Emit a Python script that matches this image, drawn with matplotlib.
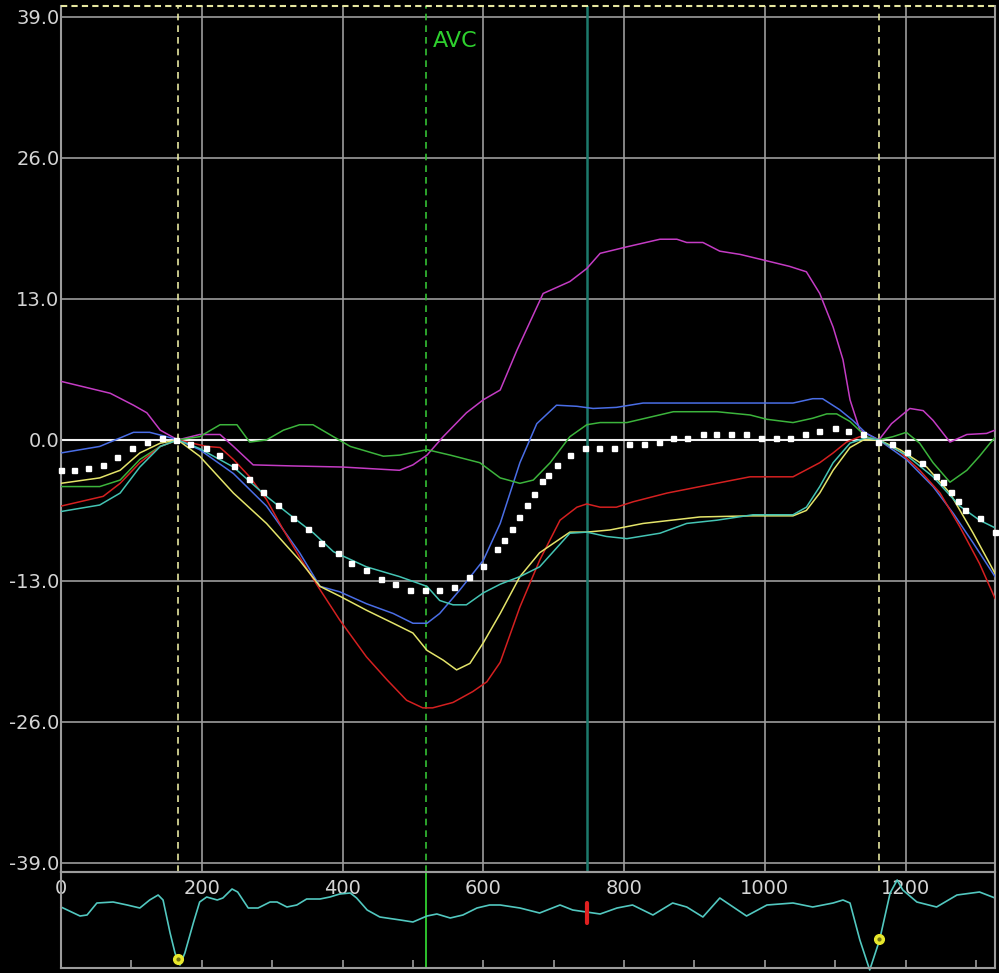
import matplotlib
matplotlib.use('Agg')
import matplotlib.pyplot as plt

plt.rcParams['axes.unicode_minus'] = False
plt.rcParams['font.family'] = ['DejaVu Sans']

# strain curves per segment (time in ms, strain in %)
magenta_t = [0, 70, 103, 122, 141, 166, 197, 226, 245, 273, 330, 400, 481, 500, 520, 543,
             576, 600, 624, 648, 685, 723, 747, 766, 804, 851, 875, 889, 912, 936, 965, 997,
             1035, 1059, 1078, 1097, 1111, 1121, 1135, 1162, 1180, 1206, 1225, 1239, 1263,
             1287, 1315, 1327]
magenta_v = [5.4, 4.3, 3.2, 2.5, 0.9, 0.0, 0.5, 0.5, -0.6, -2.3, -2.4, -2.5, -2.8, -2.3, -1.4,
             0.3, 2.5, 3.7, 4.6, 8.3, 13.5, 14.6, 15.8, 17.2, 17.8, 18.5, 18.5, 18.2, 18.2,
             17.4, 17.1, 16.6, 16.0, 15.5, 13.5, 10.4, 7.4, 3.7, 0.9, 0.0, 1.5, 2.9, 2.7, 1.8,
             -0.2, 0.5, 0.6, 0.9]

blue_t = [0, 55, 103, 126, 150, 166, 197, 245, 292, 339, 368, 396, 434, 472, 500, 520, 538,
          567, 600, 624, 652, 676, 704, 733, 756, 789, 827, 907, 1040, 1068, 1082, 1106, 1125,
          1144, 1162, 1201, 1239, 1268, 1296, 1327]
blue_v = [-1.2, -0.6, 0.7, 0.7, 0.3, 0.0, -0.9, -3.1, -6.1, -10.4, -13.5, -14.0, -15.1, -16.0,
          -16.9, -16.9, -16.0, -13.8, -11.1, -7.7, -2.1, 1.5, 3.2, 3.1, 2.9, 3.0, 3.4, 3.4,
          3.4, 3.8, 3.8, 2.8, 1.8, 0.6, 0.0, -1.8, -4.3, -6.8, -9.5, -12.6]

green_t = [0, 55, 84, 112, 141, 166, 197, 226, 250, 268, 292, 316, 339, 358, 387, 411, 458,
           481, 520, 553, 595, 624, 652, 671, 695, 723, 747, 766, 804, 837, 870, 932, 979,
           1003, 1040, 1068, 1088, 1102, 1121, 1144, 1162, 1182, 1201, 1220, 1239, 1263, 1287,
           1305, 1320, 1327]
green_v = [-4.3, -4.3, -3.7, -1.8, -0.6, 0.0, 0.3, 1.4, 1.4, -0.2, 0.0, 0.9, 1.4, 1.4, 0.3,
           -0.6, -1.5, -1.4, -0.9, -1.4, -2.1, -3.5, -4.0, -3.7, -2.1, 0.3, 1.4, 1.6, 1.6, 2.1,
           2.6, 2.6, 2.3, 1.9, 1.6, 2.0, 2.4, 2.4, 1.7, 0.3, 0.0, 0.3, 0.7, -0.3, -2.1, -3.9,
           -2.8, -1.5, -0.3, 0.2]

red_t = [0, 60, 84, 112, 141, 166, 207, 226, 245, 268, 292, 316, 339, 368, 396, 434, 463, 491,
         514, 528, 557, 585, 605, 624, 652, 680, 709, 733, 747, 766, 789, 813, 861, 908, 955,
         979, 1040, 1078, 1097, 1116, 1135, 1162, 1192, 1220, 1249, 1277, 1305, 1327]
red_v = [-6.1, -5.2, -4.0, -2.1, -0.6, 0.0, -0.6, -0.7, -1.8, -3.4, -5.5, -8.3, -10.8, -13.8,
         -16.6, -20.0, -22.1, -24.0, -24.7, -24.7, -24.2, -23.2, -22.3, -20.5, -15.4, -11.1,
         -7.4, -6.2, -5.9, -6.2, -6.2, -5.7, -4.9, -4.3, -3.7, -3.4, -3.4, -2.1, -1.2, -0.2,
         0.3, 0.0, -1.1, -2.8, -4.9, -8.0, -11.4, -14.6]

yellow_t = [0, 55, 84, 112, 141, 166, 197, 245, 292, 339, 368, 396, 434, 472, 500, 520, 543,
            562, 581, 600, 624, 652, 680, 723, 747, 780, 827, 908, 979, 1040, 1059, 1078, 1097,
            1121, 1140, 1162, 1192, 1230, 1263, 1296, 1327]
yellow_v = [-4.0, -3.5, -2.8, -1.2, -0.3, 0.0, -1.5, -4.9, -7.7, -11.1, -13.5, -14.4, -15.7,
            -16.9, -17.8, -19.4, -20.3, -21.2, -20.6, -18.7, -16.0, -12.6, -10.4, -8.5, -8.5,
            -8.3, -7.7, -7.1, -7.0, -7.0, -6.5, -4.9, -2.8, -0.7, 0.0, 0.0, -0.9, -2.5, -4.9,
            -8.6, -12.3]

cyan_t = [0, 55, 84, 112, 141, 166, 197, 245, 292, 325, 359, 387, 434, 481, 520, 538, 557,
          576, 600, 624, 652, 680, 723, 747, 775, 804, 851, 889, 932, 983, 1040, 1059, 1078,
          1097, 1121, 1144, 1162, 1201, 1239, 1277, 1305, 1327]
cyan_v = [-6.6, -6.0, -4.9, -2.5, -0.6, 0.0, -0.8, -2.5, -5.2, -6.9, -8.6, -10.3, -11.7,
          -12.6, -13.5, -14.8, -15.2, -15.2, -14.1, -13.3, -12.6, -11.7, -8.6, -8.5, -8.9,
          -9.1, -8.6, -7.7, -7.4, -6.9, -6.9, -6.2, -4.3, -2.1, -0.3, 0.2, 0.0, -1.4, -3.4,
          -6.1, -7.4, -8.1]

# global average, drawn as dotted squares
avg_t = [0, 19, 39, 59, 80, 101, 122, 143, 163, 183, 206, 224, 246, 267, 287, 309, 330, 351,
         369, 393, 412, 433, 454, 475, 496, 517, 537, 559, 579, 599, 620, 630, 641, 651, 662,
         672, 683, 692, 704, 723, 744, 765, 786, 807, 828, 849, 870, 889, 912, 931, 952, 973,
         994, 1016, 1036, 1057, 1077, 1099, 1118, 1140, 1161, 1181, 1202, 1223, 1243, 1253,
         1265, 1275, 1284, 1305, 1327]
avg_v = [-2.8, -2.8, -2.6, -2.3, -1.6, -0.7, -0.15, 0.15, 0.0, -0.4, -0.7, -1.4, -2.4, -3.6,
         -4.8, -6.0, -7.2, -8.2, -9.5, -10.4, -11.3, -12.0, -12.8, -13.3, -13.8, -13.8, -13.8,
         -13.6, -12.6, -11.6, -10.1, -9.2, -8.2, -7.1, -6.0, -4.95, -3.8, -3.2, -2.3, -1.4,
         -0.7, -0.7, -0.7, -0.4, -0.4, -0.15, 0.15, 0.15, 0.55, 0.55, 0.55, 0.55, 0.15, 0.15,
         0.15, 0.55, 0.83, 1.1, 0.83, 0.55, -0.15, -0.4, -1.1, -2.1, -3.3, -3.9, -4.8, -5.6,
         -6.5, -7.2, -8.5]

# ECG trace (ms, arbitrary amplitude)
ecg_t = [0, 27, 37, 51, 74, 94, 112, 126, 138, 145, 155, 162, 169, 176, 188, 197, 207, 222,
         230, 243, 251, 266, 280, 297, 307, 321, 335, 349, 368, 382, 396, 411, 420, 435, 453,
         482, 500, 520, 534, 553, 571, 591, 609, 624, 652, 680, 709, 727, 766, 790, 812, 841,
         869, 889, 912, 936, 955, 974, 1003, 1040, 1068, 1097, 1111, 1121, 1135, 1149, 1163,
         1178, 1188, 1196, 1216, 1244, 1273, 1305, 1327]
ecg_v = [6.1, 5.2, 5.3, 6.5, 6.6, 6.3, 6.0, 6.8, 7.3, 6.8, 3.5, 1.5, 0.3, 1.5, 4.5, 6.6, 7.1,
         6.8, 7.0, 7.9, 7.6, 6.0, 6.0, 6.6, 6.6, 6.1, 6.3, 6.9, 6.9, 7.1, 7.4, 7.5, 7.0, 5.8,
         5.1, 4.8, 4.6, 5.2, 5.4, 5.0, 5.3, 6.0, 6.3, 6.3, 6.0, 5.5, 6.3, 5.8, 5.4, 6.0, 6.3,
         5.3, 6.5, 6.1, 5.1, 7.0, 6.1, 5.2, 6.3, 6.5, 6.1, 6.5, 6.8, 6.5, 2.8, -0.2, 2.8, 7.5,
         8.8, 7.8, 6.6, 6.1, 7.3, 7.6, 7.0]

# event markers (ms)
frame_marks = [166, 1162]
frame_marks_amp = [0.9, 2.9]
avc_time = 518
cursor_time = 747
cursor_span = [4.5, 6.5]

y_ticks = [-39, -26, -13, 0, 13, 26, 39]
x_ticks = [0, 200, 400, 600, 800, 1000, 1200]

W, H = 999, 973
fig = plt.figure(figsize=(W / 100, H / 100), dpi=100, facecolor='black')

grid_col = '#9c9c9c'
text_col = '#d4d4d4'
dash_yellow = '#e6e6a0'

ax = fig.add_axes([61 / W, (H - 872) / H, 934 / W, 866 / H], facecolor='black')
ax.set_xlim(0, 1327)
ax.set_ylim(-39.83, 40.0)

ax.set_yticks(y_ticks)
ax.set_yticklabels(['%.1f' % v for v in y_ticks])
ax.set_xticks(x_ticks)
ax.set_xticklabels([str(v) for v in x_ticks])
ax.tick_params(axis='y', length=0, pad=1, labelsize=14, labelcolor=text_col)
ax.tick_params(axis='x', length=0, pad=5, labelsize=14, labelcolor=text_col)
ax.grid(True, color=grid_col, lw=1.2)
ax.set_axisbelow(True)
for side in ['left', 'right', 'bottom']:
    ax.spines[side].set_color(grid_col)
    ax.spines[side].set_linewidth(1.5)
ax.spines['top'].set_visible(False)

ax.axhline(0, color='#f0f0f0', lw=1.5, zorder=1)
ax.axhline(40.0, color=dash_yellow, lw=1.5, ls=(0, (3, 2)), clip_on=False, zorder=3)
for t in frame_marks:
    ax.axvline(t, color=dash_yellow, lw=1.2, ls=(0, (4, 3)), zorder=2)
ax.axvline(avc_time, color='#34c034', lw=1.2, ls=(0, (4, 3)), zorder=2)
ax.axvline(cursor_time, color='#1d7a6c', lw=1.8, zorder=2)
ax.text(avc_time + 10, 36.8, 'AVC', color='#2ed02e', fontsize=16, va='center', ha='left')

ax.plot(magenta_t, magenta_v, color='#c43cc4', lw=1.1, zorder=4)
ax.plot(blue_t, blue_v, color='#4a6ee6', lw=1.1, zorder=4)
ax.plot(green_t, green_v, color='#3cb43c', lw=1.1, zorder=4)
ax.plot(red_t, red_v, color='#d42020', lw=1.1, zorder=4)
ax.plot(yellow_t, yellow_v, color='#e4e46a', lw=1.1, zorder=4)
ax.plot(cyan_t, cyan_v, color='#44c4b4', lw=1.1, zorder=4)
ax.plot(avg_t, avg_v, ls='none', marker='s', ms=3.6, color='white', mec='white',
        zorder=5, clip_on=False)

# ECG strip below the strain plot
ecg = fig.add_axes([61 / W, (H - 968) / H, 934 / W, 96 / H], facecolor='none')
ecg.set_xlim(0, 1327)
ecg.set_ylim(0, 9.6)
ecg.set_xticks(range(0, 1400, 100))
ecg.set_xticklabels([])
ecg.set_yticks([])
ecg.tick_params(axis='x', direction='in', length=6, width=1.2, color=grid_col)
for side in ecg.spines:
    ecg.spines[side].set_color(grid_col)
    ecg.spines[side].set_linewidth(1.5)

ecg.axvline(avc_time, color='#30d030', lw=1.3)
ecg.plot(ecg_t, ecg_v, color='#52c8c0', lw=1.2, clip_on=False)
ecg.plot([cursor_time, cursor_time], cursor_span, color='#e02020', lw=3, solid_capstyle='round')
ecg.plot(frame_marks, frame_marks_amp, ls='none', marker='o', ms=7, mfc='#e8e82c',
         mec='#e8e82c', zorder=5)
ecg.plot(frame_marks, frame_marks_amp, ls='none', marker='o', ms=2, mfc='#707010',
         mec='#707010', zorder=6)

fig.savefig('out.png', dpi=100, facecolor='black')
